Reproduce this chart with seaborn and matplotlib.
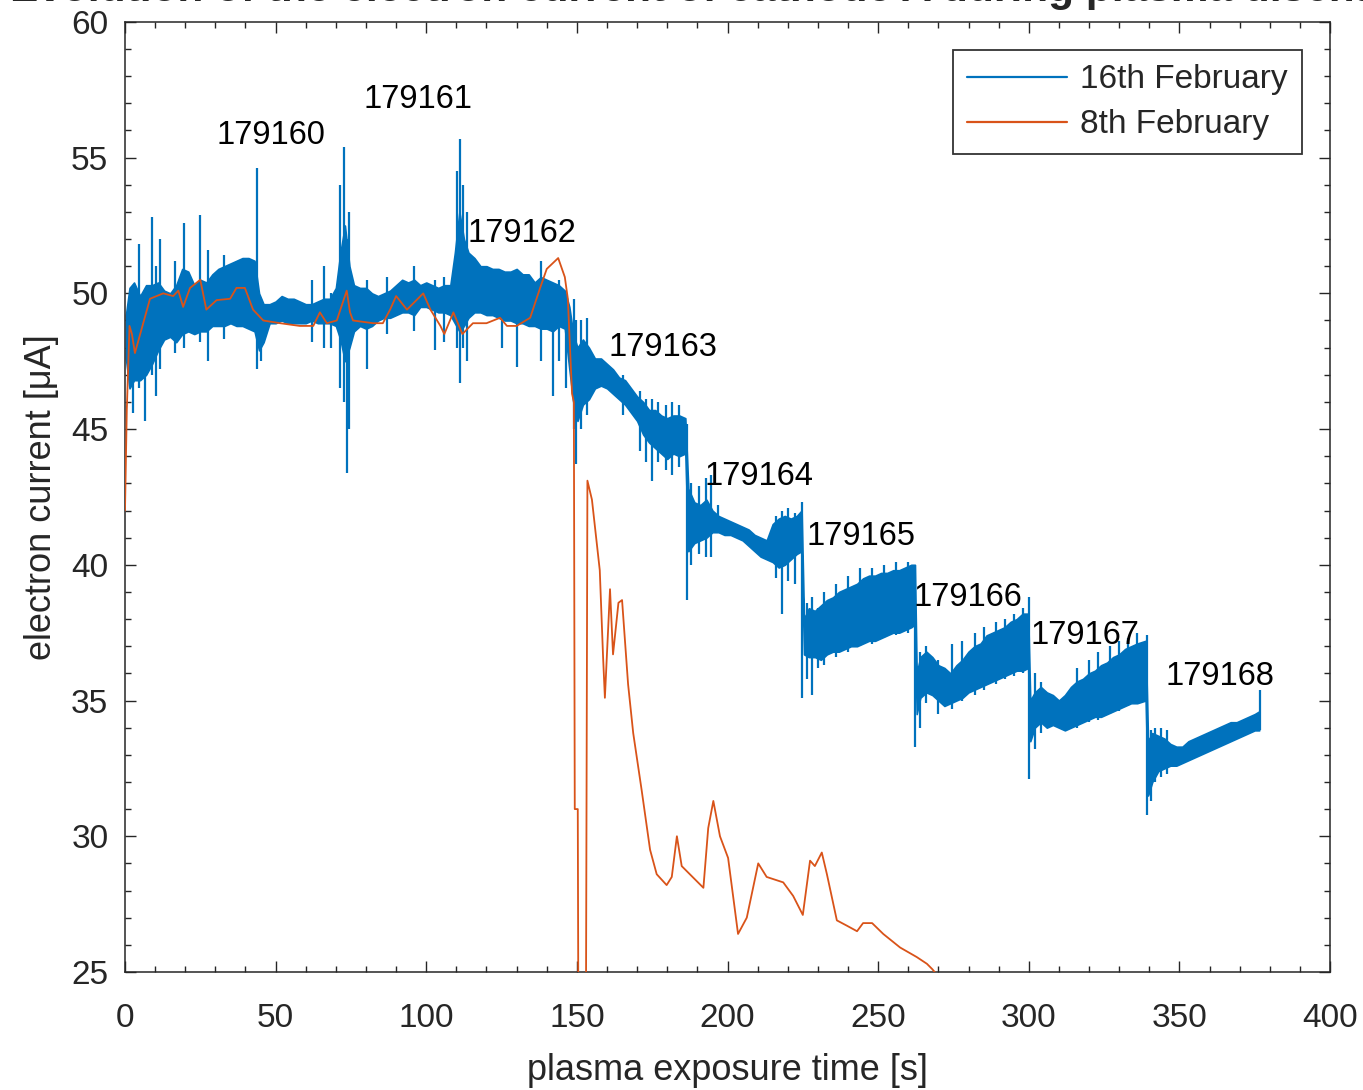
import numpy as np
import pandas as pd
import matplotlib
matplotlib.use("Agg")
import matplotlib.pyplot as plt
import seaborn as sns
from matplotlib.lines import Line2D

# 8th February trace
feb8_t = [0, 0.6, 1.5, 2.3, 3.3, 8.3, 12.7, 16, 17.7, 19.3, 21.6, 25, 27, 30.4, 34.9, 37, 39.8,
          42.5, 45.9, 51.5, 58, 62.5, 64.7, 67, 70.3, 73.6, 74.7, 75.7, 82.4, 85.6, 88, 90, 93.6,
          99, 101.4, 104.7, 106, 109, 112, 115.5, 120, 124.5, 126.8, 130, 134.5, 137.8, 140,
          143.8, 146, 147, 148.4, 149.0, 149.3, 150.3, 150.5, 153.0, 153.5, 155, 157.6, 158.7,
          159.3, 161, 162, 163.8, 165, 167, 168.7, 171.5, 174.3, 176.5, 179.8, 181.5, 183.2,
          184.8, 192, 193.6, 195.3, 197.5, 200.2, 203.5, 206.4, 210.2, 213, 218.5, 221.8, 225,
          227.4, 229, 231.3, 233, 236.3, 239.7, 243, 245, 248, 251.7, 257.3, 262.8, 266.2, 268,
          271]
feb8_i = [42.0, 45.7, 48.8, 48.5, 47.8, 49.8, 50.0, 49.9, 50.1, 49.5, 50.2, 50.5, 49.4, 49.75,
          49.8, 50.2, 50.2, 49.4, 49.0, 48.9, 48.8, 48.8, 49.3, 48.9, 49.0, 50.1, 49.3, 49.0,
          48.9, 48.9, 49.4, 49.9, 49.4, 50.0, 49.4, 48.8, 48.5, 49.3, 48.5, 48.9, 48.9, 49.1,
          48.8, 48.8, 49.1, 50.2, 50.9, 51.3, 50.6, 49.8, 46.3, 46.0, 31.0, 31.0, 23.0, 23.0,
          43.1, 42.4, 39.8, 36.6, 35.1, 39.1, 36.7, 38.6, 38.7, 35.6, 33.8, 31.7, 29.5, 28.6,
          28.2, 28.5, 30.0, 28.9, 28.1, 30.3, 31.3, 30.0, 29.2, 26.4, 27.0, 29.0, 28.5, 28.3,
          27.8, 27.1, 29.1, 28.9, 29.4, 28.6, 26.9, 26.7, 26.5, 26.8, 26.8, 26.4, 25.9, 25.55,
          25.3, 25.1, 24.7]

# 16th February trace: band of the fast oscillation (low / high envelope)
feb16_t = [0.3, 1.5, 3, 5, 7, 9, 11, 13, 15, 17, 19, 21, 23, 25, 27, 29, 31, 33, 35, 37, 39, 41,
           43, 44.5, 46, 48, 50, 52, 54, 56, 58, 60, 62, 64, 66, 68, 70, 71.5, 73, 74.5, 76, 78,
           80, 82, 84, 86, 88, 90, 92, 94, 96, 98, 100, 102, 104, 106, 108, 109.5, 111, 112.5,
           114, 116, 118, 120, 122, 124, 126, 128, 130, 132, 134, 136, 138, 140, 142, 144, 146,
           147.5, 148.8, 150.2, 152, 154, 156, 158, 160, 162, 164, 166, 168, 170, 172, 174, 176,
           178, 180, 182, 184, 186, 187, 189, 191, 193, 195, 197, 199, 201, 203, 205, 207, 209,
           211, 213, 215, 217, 219, 221, 223, 224.6, 225.4, 227, 229, 231, 233, 235, 237, 239,
           241, 243, 245, 247, 249, 251, 253, 255, 257, 259, 261, 262.2, 262.8, 264, 266, 268,
           270, 272, 274, 276, 278, 280, 282, 284, 286, 288, 290, 292, 294, 296, 298, 299.8,
           300.5, 302, 304, 306, 308, 310, 312, 314, 316, 318, 320, 322, 324, 326, 328, 330,
           332, 334, 336, 338.8, 339.6, 341, 343, 345, 347, 349, 351, 353, 355, 357, 359, 361,
           363, 365, 367, 369, 371, 373, 375, 376.5]
feb16_lo = [47.6, 46.5, 46.8, 46.8, 47.0, 47.4, 47.9, 48.3, 48.4, 48.2, 48.5, 48.6, 48.5, 48.6,
            48.6, 48.8, 48.8, 48.8, 48.9, 48.8, 48.8, 48.7, 48.6, 47.9, 48.2, 48.9, 48.9, 49.0,
            48.9, 48.9, 48.9, 48.9, 49.0, 48.9, 48.9, 48.9, 48.8, 48.3, 47.5, 48.0, 48.6, 48.8,
            48.7, 48.8, 49.0, 49.1, 49.1, 49.2, 49.3, 49.3, 49.2, 49.5, 49.5, 49.4, 49.3, 49.3,
            49.2, 48.9, 48.6, 48.8, 49.1, 49.3, 49.3, 49.2, 49.2, 49.1, 49.0, 49.0, 48.9, 48.9,
            48.8, 48.8, 48.7, 48.7, 48.6, 48.8, 48.7, 47.2, 46.0, 45.3, 45.9, 46.1, 46.5, 46.6,
            46.5, 46.3, 46.1, 45.9, 45.6, 45.3, 44.8, 44.5, 44.3, 44.1, 43.9, 44.1, 44.0, 44.1,
            40.5, 40.8, 40.9, 41.0, 41.2, 41.2, 41.1, 41.1, 41.0, 40.9, 40.7, 40.5, 40.3, 40.2,
            40.1, 39.9, 40.0, 40.2, 40.4, 40.5, 36.7, 36.6, 36.6, 36.5, 36.7, 36.8, 36.8, 36.9,
            37.0, 37.0, 37.1, 37.2, 37.2, 37.3, 37.4, 37.5, 37.5, 37.6, 37.7, 37.8, 34.5, 35.1,
            35.3, 35.2, 35.0, 34.8, 34.9, 35.0, 35.1, 35.3, 35.4, 35.5, 35.6, 35.7, 35.8, 35.9,
            36.0, 36.1, 36.1, 36.2, 33.5, 34.0, 34.2, 34.0, 34.1, 34.0, 33.9, 34.0, 34.1, 34.2,
            34.3, 34.4, 34.4, 34.5, 34.6, 34.7, 34.8, 34.9, 34.9, 35.0, 31.5, 32.0, 32.4, 32.5,
            32.6, 32.6, 32.7, 32.8, 32.9, 33.0, 33.1, 33.2, 33.3, 33.4, 33.5, 33.6, 33.7, 33.8,
            33.9, 33.9]
feb16_hi = [49.2, 50.2, 50.4, 49.9, 50.3, 50.3, 50.4, 50.1, 50.0, 50.3, 50.9, 50.8, 50.3, 50.5,
            50.4, 50.7, 50.9, 51.0, 51.1, 51.2, 51.3, 51.3, 51.2, 50.0, 49.6, 49.6, 49.7, 49.9,
            49.8, 49.8, 49.7, 49.6, 49.6, 49.7, 49.8, 49.8, 50.2, 51.5, 52.5, 51.0, 50.3, 50.2,
            50.2, 50.0, 49.9, 50.0, 50.1, 50.3, 50.5, 50.4, 50.5, 50.3, 50.4, 50.3, 50.2, 50.3,
            50.3, 51.5, 53.0, 52.0, 51.5, 51.3, 51.0, 51.0, 50.9, 50.9, 50.8, 50.8, 50.9, 50.7,
            50.7, 50.4, 50.6, 50.5, 50.4, 50.3, 50.1, 49.5, 48.5, 48.0, 48.3, 48.0, 47.6, 47.6,
            47.4, 47.2, 46.9, 46.8, 46.5, 46.2, 46.0, 45.7, 45.7, 45.5, 45.4, 45.5, 45.5, 45.4,
            42.8, 42.3, 42.2, 42.4, 42.0, 41.8, 41.7, 41.6, 41.5, 41.4, 41.3, 41.1, 41.0, 40.9,
            41.5, 41.7, 41.8, 41.7, 41.8, 42.0, 38.0, 38.4, 38.3, 38.5, 38.7, 38.8, 39.0, 39.1,
            39.2, 39.3, 39.5, 39.6, 39.6, 39.7, 39.7, 39.8, 39.8, 39.9, 40.0, 40.0, 36.0, 36.6,
            36.8, 36.6, 36.3, 36.2, 36.0, 36.3, 36.5, 36.8, 37.0, 37.1, 37.4, 37.5, 37.6, 37.7,
            37.9, 38.0, 38.2, 38.2, 35.0, 35.3, 35.5, 35.3, 35.2, 35.0, 35.2, 35.5, 35.7, 35.8,
            36.0, 36.1, 36.3, 36.4, 36.6, 36.7, 36.9, 37.0, 37.1, 37.2, 33.5, 33.8, 33.7, 33.6,
            33.4, 33.3, 33.3, 33.5, 33.6, 33.7, 33.8, 33.9, 34.0, 34.1, 34.2, 34.2, 34.3, 34.4,
            34.5, 34.6]

# 16th February trace: isolated spikes (time, low end, high end)
spike_t = [2.5, 4.5, 6.5, 8.9, 10.2, 11.5, 16.5, 19.5, 25.0, 27.5, 33, 43.8, 45.2, 62, 66, 68.5,
           71.5, 72.8, 73.7, 74.3, 80.5, 87, 96, 103, 106, 110.3, 111.3, 112.3, 113.5, 125, 130,
           138, 142, 144, 146.3, 149.0, 149.7, 151.5, 153.3, 165.4, 171, 173, 175, 177, 179.5,
           181.5, 184, 186.5, 188, 190.5, 193, 194.5, 197, 216, 218, 220, 222.5, 224.8, 226.5,
           228, 230, 232, 236, 240, 244, 248, 252, 256, 260, 262.4, 264, 266, 270, 274.5, 278,
           282, 285, 289, 292, 295, 298, 300.1, 302, 304, 316, 320, 323, 327, 330, 333, 336,
           339.1, 340.5, 342, 344, 346, 376.8]
spike_lo = [45.6, 46.5, 45.3, 47.0, 46.2, 47.2, 47.8, 48.0, 48.2, 47.5, 48.3, 47.2, 47.5, 48.2,
            48.0, 48.0, 46.5, 46.0, 43.4, 45.0, 47.2, 48.5, 48.6, 47.9, 48.2, 48.0, 46.7, 48.0,
            47.5, 48.0, 47.3, 47.5, 46.2, 47.5, 46.5, 45.0, 43.7, 45.0, 45.5, 45.5, 44.2, 43.8,
            43.1, 43.8, 43.5, 43.3, 43.6, 38.7, 40.0, 40.4, 40.3, 40.3, 41.2, 39.5, 38.2, 39.4,
            39.3, 35.1, 35.8, 35.2, 36.2, 36.3, 36.6, 36.8, 37.0, 37.1, 37.3, 37.4, 37.5, 33.3,
            34.0, 34.9, 34.5, 34.7, 35.0, 35.2, 35.4, 35.6, 35.8, 35.9, 36.0, 32.1, 33.2, 33.8,
            34.0, 34.2, 34.3, 34.5, 34.6, 34.8, 34.9, 30.8, 31.3, 32.0, 32.2, 32.3, 33.9]
spike_hi = [49.5, 51.8, 50.0, 52.8, 51.0, 52.0, 51.2, 52.6, 52.9, 51.6, 51.4, 54.6, 49.8, 50.5,
            51.0, 50.0, 54.0, 55.4, 52.0, 53.0, 50.5, 50.6, 51.0, 50.5, 50.6, 54.5, 55.7, 54.0,
            53.0, 50.8, 50.5, 51.2, 50.0, 50.5, 49.5, 49.8, 49.0, 49.0, 49.1, 47.0, 46.4, 46.1,
            46.1, 46.0, 45.9, 46.0, 45.9, 45.2, 43.0, 42.9, 43.2, 43.3, 42.2, 41.8, 42.0, 42.1,
            41.9, 42.3, 38.6, 38.8, 38.4, 39.0, 39.3, 39.6, 39.9, 39.9, 40.0, 40.1, 40.1, 40.0,
            36.8, 37.0, 36.5, 37.1, 37.2, 37.5, 37.7, 37.9, 38.0, 38.2, 38.4, 38.8, 36.0, 35.7,
            36.2, 36.5, 36.8, 37.0, 37.2, 37.3, 37.5, 37.4, 33.9, 34.0, 34.0, 33.9, 35.4]

# discharge numbers written on the chart
shot_labels = ["179160", "179161", "179162", "179163", "179164", "179165", "179166", "179167",
               "179168"]
shot_t = [48.5, 97.3, 131.8, 178.6, 210.5, 244.3, 279.8, 318.7, 363.5]
shot_i = [55.8, 57.13, 52.19, 47.99, 43.27, 41.03, 38.78, 37.38, 35.90]

BLUE = "#0072BD"
ORANGE = "#D95319"
DARK = "#262626"

sns.set_theme(style="ticks")
plt.rcParams["font.family"] = ["Liberation Sans", "DejaVu Sans"]

fig = plt.figure(figsize=(13.63, 10.90), dpi=100)
ax = fig.add_axes([0.0917, 0.1083, 0.8841, 0.8716])

# 16th February: band + spikes
ax.fill_between(feb16_t, feb16_lo, feb16_hi, color=BLUE, lw=1.2, edgecolor=BLUE, zorder=2)
ax.vlines(spike_t, spike_lo, spike_hi, color=BLUE, lw=1.6, zorder=2)

# 8th February line
df8 = pd.DataFrame({"t": feb8_t, "i": feb8_i})
sns.lineplot(data=df8, x="t", y="i", color=ORANGE, lw=1.3, estimator=None, sort=False,
             ax=ax, zorder=3)

for lab, t, v in zip(shot_labels, shot_t, shot_i):
    ax.text(t, v, lab, ha="center", va="center", fontsize=23.5, color="black",
            family=["Liberation Sans Narrow", "Liberation Sans"], zorder=5)

ax.set_xlim(0, 400)
ax.set_ylim(25, 60)
ax.set_xticks(np.arange(0, 401, 50))
ax.set_yticks(np.arange(25, 61, 5))
ax.set_xticks(np.arange(0, 401, 10), minor=True)
ax.set_yticks(np.arange(25, 61, 1), minor=True)
ax.tick_params(which="both", direction="in", top=True, right=True, colors=DARK,
               labelsize=24, width=1.0)
ax.tick_params(which="major", length=8)
ax.tick_params(axis="y", which="major", pad=12)
ax.tick_params(axis="x", which="major", pad=22)
ax.tick_params(which="minor", length=4)
for s in ax.spines.values():
    s.set_visible(True)
    s.set_color(DARK)
    s.set_linewidth(1.1)

ax.set_xlabel("plasma exposure time [s]", fontsize=26, color=DARK, labelpad=14)
ax.set_ylabel("electron current [\u03bcA]", fontsize=26, color=DARK, labelpad=9)

handles = [Line2D([], [], color=BLUE, lw=1.6), Line2D([], [], color=ORANGE, lw=1.6)]
leg = ax.legend(handles, ["16th February", "8th February"], loc="upper right", fontsize=24,
                frameon=True, fancybox=False, edgecolor="black", handlelength=3.0,
                borderaxespad=0.85, labelspacing=0.42, borderpad=0.42, handletextpad=0.4)
leg.get_frame().set_linewidth(1.3)
for txt in leg.get_texts():
    txt.set_color(DARK)

fig.text(0.5335, 0.9995, "Evolution of the electron current of cathode A during plasma discharge",
         ha="center", va="baseline", fontsize=30.5, fontweight="bold", color=DARK)

fig.savefig("out.png", dpi=100)
